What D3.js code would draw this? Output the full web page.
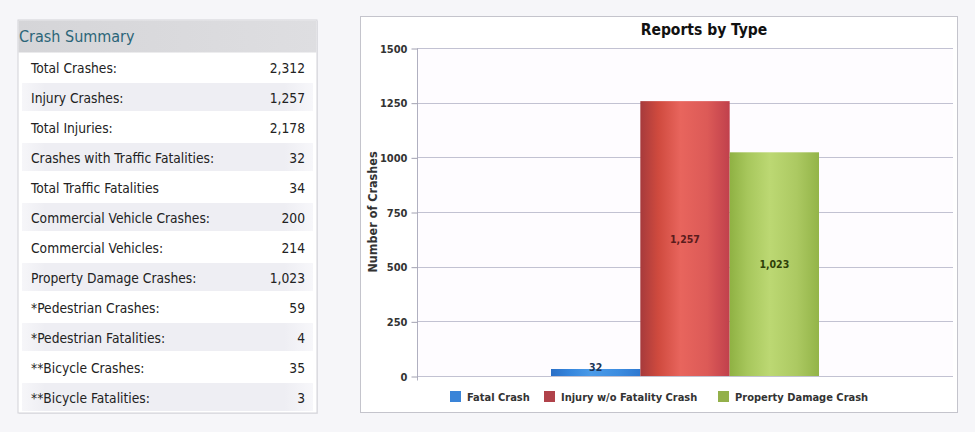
<!DOCTYPE html>
<html>
<head>
<meta charset="utf-8">
<script src="https://cdn.jsdelivr.net/npm/d3@7"></script>
<style>
  html, body { margin: 0; padding: 0; background: #f6f6f9; }
  svg { display: block; }
</style>
</head>
<body>
<svg id="c" width="975" height="432"></svg>
<script>
// ---- data ----
const summaryLabels = [
  "Total Crashes:", "Injury Crashes:", "Total Injuries:",
  "Crashes with Traffic Fatalities:", "Total Traffic Fatalities",
  "Commercial Vehicle Crashes:", "Commercial Vehicles:",
  "Property Damage Crashes:", "*Pedestrian Crashes:",
  "*Pedestrian Fatalities:", "**Bicycle Crashes:", "**Bicycle Fatalities:"
];
const summaryValues = [2312, 1257, 2178, 32, 34, 200, 214, 1023, 59, 4, 35, 3];
const categories = ["Fatal Crash", "Injury w/o Fatality Crash", "Property Damage Crash"];
const crashValues = [32, 1257, 1023];
const yTicks = [0, 250, 500, 750, 1000, 1250, 1500];

const svg = d3.select("#c");
const fmt = d3.format(",");
const defs = svg.append("defs");
const font = "DejaVu Sans Condensed, DejaVu Sans, sans-serif";

// ---------- left panel: Crash Summary ----------
const tbl = { x: 18, y: 20, w: 299, head: 33, row: 30 };
const tblH = tbl.head + summaryLabels.length * tbl.row;

svg.append("rect").attr("x", tbl.x + 1).attr("y", tbl.y + 1).attr("width", tbl.w).attr("height", tblH)
  .attr("fill", "#e6e6ea");
svg.append("rect").attr("x", tbl.x).attr("y", tbl.y).attr("width", tbl.w).attr("height", tblH)
  .attr("fill", "#ffffff").attr("stroke", "#d2d2d8");

const hg = defs.append("linearGradient").attr("id", "hdr");
hg.append("stop").attr("offset", "0%").attr("stop-color", "#d5d5d8");
hg.append("stop").attr("offset", "100%").attr("stop-color", "#dedee1");
svg.append("rect").attr("x", tbl.x + 0.5).attr("y", tbl.y + 0.5).attr("width", tbl.w - 1).attr("height", tbl.head - 1)
  .attr("fill", "url(#hdr)");
svg.append("text").attr("x", tbl.x + 1).attr("y", tbl.y + 22)
  .attr("font-family", font)
  .attr("font-size", 16).attr("fill", "#2b6578").text("Crash Summary");

const rg = defs.append("linearGradient").attr("id", "rowg");
rg.append("stop").attr("offset", "0%").attr("stop-color", "#f6f6f9");
rg.append("stop").attr("offset", "8%").attr("stop-color", "#eeeef3");
rg.append("stop").attr("offset", "90%").attr("stop-color", "#eeeef3");
rg.append("stop").attr("offset", "100%").attr("stop-color", "#f7f7fa");

const rowY = i => tbl.y + tbl.head + i * tbl.row;
const rows = svg.append("g").selectAll("g").data(summaryLabels).join("g")
  .attr("transform", (d, i) => `translate(0,${rowY(i)})`);
rows.filter((d, i) => i % 2 === 1).append("rect")
  .attr("x", tbl.x + 4).attr("y", 0).attr("width", tbl.w - 8).attr("height", tbl.row - 2)
  .attr("fill", "url(#rowg)");
rows.append("text").attr("x", 31).attr("y", 20)
  .attr("font-family", font)
  .attr("font-size", 13.7).attr("fill", "#222").text(d => d);
rows.append("text").attr("x", 305).attr("y", 20).attr("text-anchor", "end")
  .attr("font-family", font)
  .attr("font-size", 13.7).attr("fill", "#222").text((d, i) => fmt(summaryValues[i]));

// ---------- right panel: chart ----------
svg.append("rect").attr("x", 360.5).attr("y", 16.5).attr("width", 597).attr("height", 396)
  .attr("fill", "#ffffff").attr("stroke", "#c4c4cc");

const plot = { l: 417, r: 953, t: 48, b: 376 };
svg.append("rect").attr("x", plot.l).attr("y", plot.t).attr("width", plot.r - plot.l).attr("height", plot.b - plot.t)
  .attr("fill", "#fefcff");

svg.append("text").attr("x", 704).attr("y", 35).attr("text-anchor", "middle")
  .attr("font-family", font).attr("font-weight", "bold").attr("font-size", 15.5)
  .attr("fill", "#111").text("Reports by Type");

const y = d3.scaleLinear().domain([0, 1500]).range([plot.b, plot.t]);
const groupW = 268;
const cx = (plot.l + plot.r) / 2;
const x = d3.scaleBand().domain(categories).range([cx - groupW / 2, cx + groupW / 2]).padding(0);

// grid
svg.append("g").selectAll("line").data(yTicks).join("line")
  .attr("x1", plot.l).attr("x2", plot.r)
  .attr("y1", d => Math.round(y(d)) + 0.5).attr("y2", d => Math.round(y(d)) + 0.5)
  .attr("stroke", "#c2c2d2").attr("stroke-width", 1);

// y axis
const yAxis = d3.axisLeft(y).tickValues(yTicks).tickSize(6).tickPadding(4).tickFormat(d3.format("d"));
const ya = svg.append("g").attr("transform", `translate(${plot.l + 0.5},0.5)`).call(yAxis);
ya.select(".domain").attr("stroke", "#b0b0c0").attr("d", `M0,${plot.t}V${plot.b + 4}`);
ya.selectAll(".tick line").attr("stroke", "#a0a0b0");
ya.selectAll(".tick text").attr("font-family", font).attr("font-weight", "bold")
  .attr("font-size", 11).attr("fill", "#333");

svg.append("text")
  .attr("transform", `translate(377,212) rotate(-90)`)
  .attr("text-anchor", "middle")
  .attr("font-family", font).attr("font-weight", "bold").attr("font-size", 12.5)
  .attr("fill", "#333").text("Number of Crashes");

// bar gradients
const grads = [
  ["#2a6fc6", "#3585dc", "#4b9be8", "#3d8de0", "#2f78d0"],
  ["#a63a3c", "#cf4a3e", "#e8655d", "#dc5a57", "#c0404c"],
  ["#8fb143", "#a7c75c", "#bcd873", "#acc962", "#93b448"]
];
grads.forEach((g, i) => {
  const lg = defs.append("linearGradient").attr("id", "bar" + i);
  [0, 0.2, 0.45, 0.75, 1].forEach((o, j) =>
    lg.append("stop").attr("offset", o).attr("stop-color", g[j]));
});

svg.append("g").selectAll("rect").data(categories).join("rect")
  .attr("x", d => x(d)).attr("width", x.bandwidth())
  .attr("y", (d, i) => y(crashValues[i])).attr("height", (d, i) => y(0) - y(crashValues[i]))
  .attr("fill", (d, i) => `url(#bar${i})`);

// labels
const labelColors = ["#1d3458", "#5a1c1c", "#2f3f08"];
svg.append("g").selectAll("text").data(categories).join("text")
  .attr("x", d => x(d) + x.bandwidth() / 2)
  .attr("y", (d, i) => {
    const top = y(crashValues[i]);
    const h = y(0) - top;
    return h > 30 ? top + h / 2 + 4 : top + 2;
  })
  .attr("text-anchor", "middle")
  .attr("font-family", font).attr("font-weight", "bold").attr("font-size", 10.5)
  .attr("fill", (d, i) => labelColors[i])
  .text((d, i) => fmt(crashValues[i]));

// legend
const legColors = ["#3a84d8", "#b0424a", "#93b04a"];
const legX = [450, 544, 718];
const leg = svg.append("g").selectAll("g").data(categories).join("g")
  .attr("transform", (d, i) => `translate(${legX[i]},391)`);
leg.append("rect").attr("width", 11).attr("height", 11).attr("fill", (d, i) => legColors[i]);
leg.append("text").attr("x", 17).attr("y", 10)
  .attr("font-family", font).attr("font-weight", "bold").attr("font-size", 11)
  .attr("fill", "#333").text(d => d);
</script>
</body>
</html>
